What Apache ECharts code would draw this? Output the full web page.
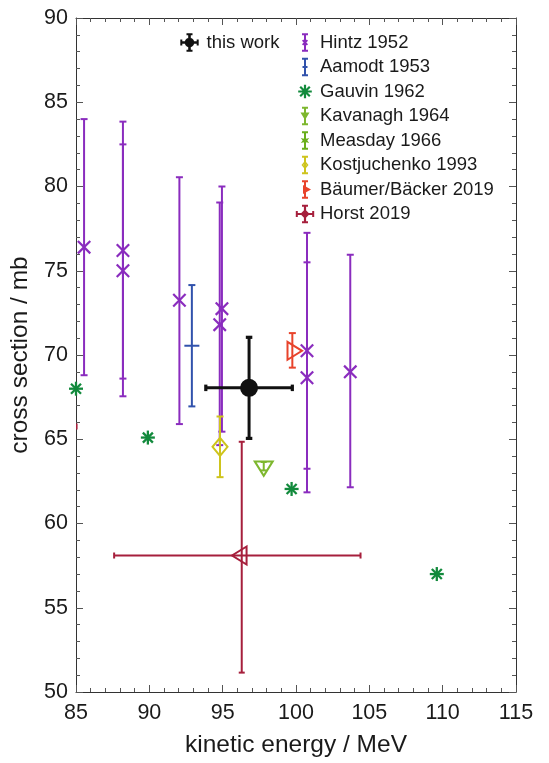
<!DOCTYPE html>
<html>
<head>
<meta charset="utf-8">
<script src="https://cdn.jsdelivr.net/npm/echarts@6/dist/echarts.min.js"></script>
<style>
  html, body { margin: 0; padding: 0; background: #fff; }
  #chart { width: 549px; height: 763px; }
</style>
</head>
<body>
<div id="chart"></div>
<script>
// Each row: [energy MeV, cross section mb, energyLow, energyHigh, sigmaLow, sigmaHigh]
// null means that error bar is not drawn.
const thisWork = [
  [96.8, 68.05, 93.85, 99.75, 65.05, 71.05]
];
const hintz1952 = [
  [85.55, 76.4, null, null, 68.8, 84.0],
  [88.2, 76.2, null, null, 68.6, 83.85],
  [88.2, 75.0, null, null, 67.55, 82.5],
  [92.05, 73.25, null, null, 65.9, 80.55],
  [94.95, 72.75, null, null, 65.45, 80.0],
  [94.8, 71.8, null, null, 64.65, 79.05],
  [100.75, 70.25, null, null, 63.25, 77.25],
  [100.75, 68.65, null, null, 61.85, 75.5],
  [103.7, 69.0, null, null, 62.15, 75.95]
];
const aamodt1953 = [
  [92.9, 70.55, null, null, 66.95, 74.15]
];
const gauvin1962 = [
  [85.0, 68.0, null, null, null, null],
  [89.9, 65.1, null, null, null, null],
  [99.7, 62.05, null, null, null, null],
  [109.6, 57.0, null, null, null, null]
];
const kavanagh1964 = [
  [97.8, 63.4, null, null, 63.15, 63.65]
];
const measday1966 = [];
const kostjuchenko1993 = [
  [94.82, 64.55, null, null, 62.75, 66.35]
];
const baumerBacker2019 = [
  [99.75, 70.25, null, null, 69.25, 71.3]
];
const horst2019 = [
  [96.3, 58.1, 87.6, 104.4, 51.15, 64.85],
  [79.5, 65.75, 74.0, 85.04, 60.5, 71.0]
];

const xTicks = { min: 85, max: 115, step: 5 };
const yTicks = { min: 50, max: 90, step: 5 };

const FONT = '"Liberation Sans", Arial, Helvetica, sans-serif';
const INK = '#1a1a1a';

// ---------- marker and error-bar drawing ----------
function seg(a, b, color, w) {
  return { type: 'line', shape: { x1: a[0], y1: a[1], x2: b[0], y2: b[1] },
           style: { stroke: color, lineWidth: w, fill: null } };
}
function markerShapes(kind, p, color) {
  const [cx, cy] = p;
  const out = [];
  if (kind === 'disc') {
    out.push({ type: 'circle', shape: { cx, cy, r: 9 }, style: { fill: color } });
  } else if (kind === 'cross') {
    const s = 6.2;
    out.push(seg([cx - s, cy - s], [cx + s, cy + s], color, 2.2));
    out.push(seg([cx - s, cy + s], [cx + s, cy - s], color, 2.2));
  } else if (kind === 'dash') {
    out.push(seg([cx - 7.5, cy], [cx + 7.5, cy], color, 2));
  } else if (kind === 'asterisk') {
    const s = 7, d = 5;
    out.push(seg([cx, cy - s], [cx, cy + s], color, 2.3));
    out.push(seg([cx - s, cy], [cx + s, cy], color, 2.3));
    out.push(seg([cx - d, cy - d], [cx + d, cy + d], color, 2.3));
    out.push(seg([cx - d, cy + d], [cx + d, cy - d], color, 2.3));
  } else if (kind === 'diamond') {
    out.push({ type: 'polygon',
      shape: { points: [[cx, cy - 9], [cx + 7.5, cy], [cx, cy + 9], [cx - 7.5, cy]] },
      style: { fill: null, stroke: color, lineWidth: 2 } });
  } else if (kind.indexOf('tri') === 0) {
    // triangle placed by its centroid: tip at 2h/3, base at h/3
    const h = 14.5, b = 9;
    let pts;
    if (kind === 'triDown') pts = [[cx - b, cy - h / 3], [cx + b, cy - h / 3], [cx, cy + 2 * h / 3]];
    if (kind === 'triRight') pts = [[cx - h / 3, cy - b], [cx + 2 * h / 3, cy], [cx - h / 3, cy + b]];
    if (kind === 'triLeft') pts = [[cx + h / 3, cy - b], [cx - 2 * h / 3, cy], [cx + h / 3, cy + b]];
    out.push({ type: 'polygon', shape: { points: pts },
      style: { fill: null, stroke: color, lineWidth: 2 } });
  }
  return out;
}

function errorSeries(name, rows, opts) {
  const color = opts.color;
  const bw = opts.barWidth || 2;
  const capW = opts.capWidth || bw;
  const capL = opts.capLen || 7;
  return {
    type: 'custom',
    name: name,
    clip: !!opts.clip,
    z: opts.z || 2,
    itemStyle: { color: color },
    encode: { x: 0, y: 1 },
    data: rows.map(r => [r[0], r[1]]),
    renderItem: function (params, api) {
      const r = rows[params.dataIndex];
      const children = [];
      const p = api.coord([r[0], r[1]]);
      if (r[4] !== null && r[5] !== null) {
        const lo = api.coord([r[0], r[4]]);
        const hi = api.coord([r[0], r[5]]);
        children.push(seg(lo, hi, color, bw));
        children.push(seg([lo[0] - capL / 2, lo[1]], [lo[0] + capL / 2, lo[1]], color, capW));
        children.push(seg([hi[0] - capL / 2, hi[1]], [hi[0] + capL / 2, hi[1]], color, capW));
      }
      if (r[2] !== null && r[3] !== null) {
        const lo = api.coord([r[2], r[1]]);
        const hi = api.coord([r[3], r[1]]);
        children.push(seg(lo, hi, color, bw));
        children.push(seg([lo[0], lo[1] - capL / 2], [lo[0], lo[1] + capL / 2], color, capW));
        children.push(seg([hi[0], hi[1] - capL / 2], [hi[0], hi[1] + capL / 2], color, capW));
      }
      markerShapes(opts.marker, p, color).forEach(s => children.push(s));
      return { type: 'group', children: children };
    }
  };
}

// ---------- legend icons (filled paths in a 20x20 box) ----------
function area(pts) {
  let a = 0;
  for (let i = 0; i < pts.length; i++) {
    const p = pts[i], q = pts[(i + 1) % pts.length];
    a += p[0] * q[1] - q[0] * p[1];
  }
  return a;
}
function poly(pts, hole) {
  let q = pts.slice();
  if ((area(q) < 0) !== !!hole) q.reverse();
  return 'M' + q.map(p => p[0].toFixed(2) + ' ' + p[1].toFixed(2)).join('L') + 'Z';
}
function rect(x, y, w, h) { return poly([[x, y], [x + w, y], [x + w, y + h], [x, y + h]]); }
function bar(x1, y1, x2, y2, w) {
  const dx = x2 - x1, dy = y2 - y1, L = Math.hypot(dx, dy);
  const nx = -dy / L * w / 2, ny = dx / L * w / 2;
  return poly([[x1 + nx, y1 + ny], [x2 + nx, y2 + ny], [x2 - nx, y2 - ny], [x1 - nx, y1 - ny]]);
}
const BOX = 'M0 0M20 20';
function vErr(w) { w = w || 2; return rect(10 - w / 2, 1.5, w, 17) + rect(7, 0.8, 6, 2) + rect(7, 17.2, 6, 2); }
function hErr(w) { w = w || 2; return rect(1.5, 10 - w / 2, 17, w) + rect(0.8, 7, 2, 6) + rect(17.2, 7, 2, 6); }
function octagon(r) {
  const pts = [];
  for (let i = 0; i < 12; i++) { const t = Math.PI * 2 * i / 12; pts.push([10 + r * Math.cos(t), 10 + r * Math.sin(t)]); }
  return poly(pts);
}
const icons = {
  'this work': BOX + vErr(2.6) + hErr(2.6) + octagon(4.8),
  'Hintz 1952': BOX + vErr() + bar(7.6, 7.6, 12.4, 12.4, 1.8) + bar(7.6, 12.4, 12.4, 7.6, 1.8),
  'Aamodt 1953': BOX + vErr() + rect(7.5, 9.1, 5, 1.8),
  'Gauvin 1962': BOX + bar(10, 3.2, 10, 16.8, 2.2) + bar(3.2, 10, 16.8, 10, 2.2) +
                 bar(5.2, 5.2, 14.8, 14.8, 2.2) + bar(5.2, 14.8, 14.8, 5.2, 2.2),
  'Kavanagh 1964': BOX + vErr() + poly([[5.5, 6.5], [14.5, 6.5], [10, 14]]),
  'Measday 1966': BOX + vErr() + poly([[10, 5.5], [11.3, 8.2], [14.2, 7.6], [12.3, 10], [14.2, 12.4],
                  [11.3, 11.8], [10, 14.5], [8.7, 11.8], [5.8, 12.4], [7.7, 10], [5.8, 7.6], [8.7, 8.2]]),
  'Kostjuchenko 1993': BOX + vErr() + poly([[10, 5.8], [13.5, 10], [10, 14.2], [6.5, 10]]) +
                  poly([[10, 8.2], [11.6, 10], [10, 11.8], [8.4, 10]], true),
  'Bäumer/Bäcker 2019': BOX + vErr() + poly([[8, 5.5], [16, 10], [8, 14.5]]),
  'Horst 2019': BOX + vErr(2.2) + hErr(2.2) + poly([[10, 5.3], [14.7, 10], [10, 14.7], [5.3, 10]])
};

const colors = {
  thisWork: '#111111',
  hintz: '#8A2CBE',
  aamodt: '#3152AC',
  gauvin: '#128A3C',
  kavanagh: '#7DB72E',
  measday: '#6AAE1C',
  kostjuchenko: '#CEC41D',
  baumer: '#E8432B',
  horst: '#A61F3C'
};

const series = [
  errorSeries('Hintz 1952', hintz1952, { color: colors.hintz, marker: 'cross', capLen: 7 }),
  errorSeries('Aamodt 1953', aamodt1953, { color: colors.aamodt, marker: 'dash', capLen: 7 }),
  errorSeries('Gauvin 1962', gauvin1962, { color: colors.gauvin, marker: 'asterisk' }),
  errorSeries('Kavanagh 1964', kavanagh1964, { color: colors.kavanagh, marker: 'triDown', capLen: 6 }),
  errorSeries('Measday 1966', measday1966, { color: colors.measday, marker: 'asterisk' }),
  errorSeries('Kostjuchenko 1993', kostjuchenko1993, { color: colors.kostjuchenko, marker: 'diamond', capLen: 7 }),
  errorSeries('Bäumer/Bäcker 2019', baumerBacker2019, { color: colors.baumer, marker: 'triRight', capLen: 7 }),
  errorSeries('Horst 2019', horst2019, { color: colors.horst, marker: 'triLeft', capLen: 6, clip: true }),
  errorSeries('this work', thisWork, { color: colors.thisWork, marker: 'disc', barWidth: 3, capWidth: 3.2, capLen: 6.5, z: 5 })
];

const legendText = { fontFamily: FONT, fontSize: 18.5, color: INK };
const otherNames = ['Hintz 1952', 'Aamodt 1953', 'Gauvin 1962', 'Kavanagh 1964', 'Measday 1966',
                    'Kostjuchenko 1993', 'Bäumer/Bäcker 2019', 'Horst 2019'];

function axisCommon(showLabels) {
  return {
    type: 'value',
    axisLine: { show: true, onZero: false, lineStyle: { color: '#333', width: 1 } },
    axisTick: { show: true, inside: true, length: 7, lineStyle: { color: '#555', width: 1 } },
    minorTick: { show: true, splitNumber: 5, length: 4, lineStyle: { color: '#555', width: 1 } },
    splitLine: { show: false },
    axisLabel: { show: showLabels, fontFamily: FONT, fontSize: 21.5, color: INK }
  };
}

const option = {
  animation: false,
  backgroundColor: '#fff',
  grid: { left: 76, right: 33, top: 18, bottom: 69, containLabel: false },
  xAxis: [
    Object.assign(axisCommon(true), {
      position: 'bottom', min: xTicks.min, max: xTicks.max, interval: xTicks.step,
      name: 'kinetic energy / MeV', nameLocation: 'middle', nameGap: 41,
      nameTextStyle: { fontFamily: FONT, fontSize: 24.5, color: INK }
    }),
    Object.assign(axisCommon(false), {
      position: 'top', min: xTicks.min, max: xTicks.max, interval: xTicks.step
    })
  ],
  yAxis: [
    Object.assign(axisCommon(true), {
      position: 'left', min: yTicks.min, max: yTicks.max, interval: yTicks.step,
      name: 'cross section / mb', nameLocation: 'middle', nameGap: 35,
      nameTextStyle: { fontFamily: FONT, fontSize: 24.5, color: INK }
    }),
    Object.assign(axisCommon(false), {
      position: 'right', min: yTicks.min, max: yTicks.max, interval: yTicks.step
    })
  ],
  legend: [
    {
      left: 174.5, top: 27.5, orient: 'vertical', itemWidth: 24, itemHeight: 20, itemGap: 4.5,
      selectedMode: false, textStyle: legendText,
      data: [{ name: 'this work', icon: 'path://' + icons['this work'] }]
    },
    {
      left: 290, top: 27.5, orient: 'vertical', itemWidth: 20, itemHeight: 20, itemGap: 4.5,
      selectedMode: false, textStyle: legendText,
      data: otherNames.map(n => ({ name: n, icon: 'path://' + icons[n] }))
    }
  ],
  series: series
};
option.xAxis[0].axisLabel.margin = 10;
option.yAxis[0].axisLabel.margin = 8;

const chart = echarts.init(document.getElementById('chart'), null, { renderer: 'canvas' });
chart.setOption(option);
</script>
</body>
</html>
